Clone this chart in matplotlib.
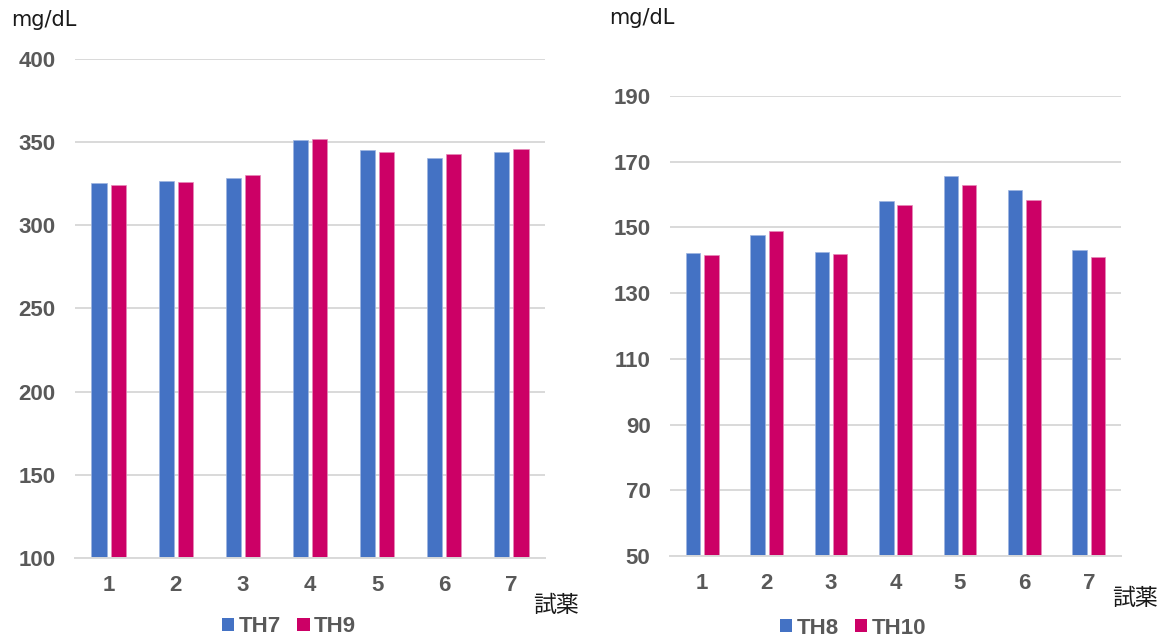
import numpy as np
import matplotlib
matplotlib.use("Agg")
import matplotlib.pyplot as plt
from matplotlib.patches import Patch

# ---- data ----
categories = ["1", "2", "3", "4", "5", "6", "7"]
th7 = [325.6, 326.6, 328.6, 351.4, 345.0, 340.6, 344.0]
th9 = [324.2, 326.2, 330.0, 352.2, 343.8, 342.6, 346.0]
th8 = [142.3, 147.6, 142.5, 157.9, 165.7, 161.5, 143.0]
th10 = [141.7, 149.0, 141.9, 156.9, 163.0, 158.4, 140.9]
left_yticks = [100, 150, 200, 250, 300, 350, 400]
right_yticks = [50, 70, 90, 110, 130, 150, 170, 190]
unit_label = "mg/dL"
x_label = "試薬"

BLUE = "#4472C4"
RED = "#CC0066"
GRID = "#D9D9D9"
TXT = "#595959"
W, H = 1169, 643

num_font = ["Liberation Sans", "DejaVu Sans"]
cjk_font = ["Noto Sans CJK JP", "DejaVu Sans"]

fig = plt.figure(figsize=(W / 100, H / 100), dpi=100)


def make_panel(rect, s1, s2, names, yticks, legend_center, unit_xy, xlab_xy):
    ax = fig.add_axes(rect)
    x = np.arange(1, len(categories) + 1)
    ax.bar(x - 0.142, s1, width=0.225, color=BLUE, edgecolor="#9DB4E0",
           linewidth=0.5, zorder=3)
    ax.bar(x + 0.142, s2, width=0.225, color=RED, edgecolor="#E58AB8",
           linewidth=0.5, zorder=3)
    ax.set_xlim(0.5, len(categories) + 0.5)
    ax.set_ylim(yticks[0], yticks[-1])
    ax.set_yticks(yticks)
    ax.set_xticks(x)
    ax.set_xticklabels(categories)
    ax.yaxis.grid(True, color=GRID, linewidth=1.4, zorder=0)
    ax.set_axisbelow(True)
    for s in ["top", "right", "left"]:
        ax.spines[s].set_visible(False)
    ax.spines["bottom"].set_color(GRID)
    ax.spines["bottom"].set_linewidth(1.4)
    ax.spines["bottom"].set_zorder(4)
    ax.tick_params(axis="both", length=0, labelcolor=TXT)
    ax.tick_params(axis="y", pad=14)
    ax.tick_params(axis="x", pad=12)
    for lab in ax.get_xticklabels() + ax.get_yticklabels():
        lab.set_fontfamily(num_font)
        lab.set_fontweight("bold")
        lab.set_fontsize(16)
    fig.text(unit_xy[0] / W, 1 - unit_xy[1] / H, unit_label, ha="left",
             va="center", fontsize=15, color="#1a1a1a", family="DejaVu Sans")
    fig.text(xlab_xy[0] / W, 1 - xlab_xy[1] / H, x_label, ha="center",
             va="center", fontsize=16.5, color="#1a1a1a", family=cjk_font)
    handles = [Patch(facecolor=BLUE, label=names[0]),
               Patch(facecolor=RED, label=names[1])]
    leg = fig.legend(handles=handles, loc="center",
                     bbox_to_anchor=(legend_center[0] / W, 1 - legend_center[1] / H),
                     ncol=2, frameon=False, handlelength=0.55, handleheight=0.55,
                     handletextpad=0.2, columnspacing=0.75,
                     prop={"family": num_font, "weight": "bold", "size": 16})
    for t in leg.get_texts():
        t.set_color(TXT)
    return ax


make_panel([75 / W, 1 - 558 / H, 470 / W, 499 / H], th7, th9, ["TH7", "TH9"],
           left_yticks, (289, 627), (11, 20), (556, 605))
make_panel([670 / W, 1 - 556 / H, 451 / W, 460 / H], th8, th10, ["TH8", "TH10"],
           right_yticks, (853, 628), (609, 18), (1135, 598))

fig.savefig("out.png", dpi=100, facecolor="white")
